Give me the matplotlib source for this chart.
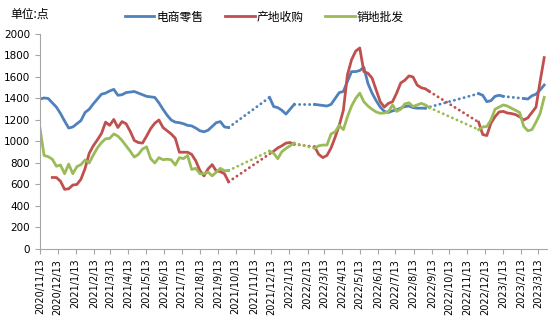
import numpy as np
import pandas as pd
import matplotlib
matplotlib.use('Agg')
import matplotlib.pyplot as plt
from matplotlib.ticker import MultipleLocator

nan = np.nan

# weekly observations starting 2020/11/13
weeks = pd.date_range('2020-11-13', periods=124, freq='7D')

ecommerce = [1395, 1405, 1400, 1360, 1320, 1260, 1190, 1125, 1135, 1165,
             1195, 1270, 1300, 1350, 1395, 1440, 1450, 1470, 1485, 1430,
             1435, 1455, 1460, 1465, 1450, 1435, 1420, 1415, 1410, 1360,
             1300, 1245, 1200, 1180, 1175, 1165, 1150, 1145, 1125, 1100,
             1090, 1105, 1140, 1175, 1185, 1135, 1130,
             nan, nan, nan, nan, nan, nan, nan, nan, nan,
             1410, 1325, 1315, 1290, 1255, 1300, 1345,
             nan, nan, nan, nan,
             1345, 1340, 1335, 1330, 1345, 1400, 1455, 1465, 1560, 1650,
             1650, 1660, 1690, 1540, 1450, 1380, 1320, 1280, 1270, 1285,
             1295, 1310, 1325, 1330, 1315, 1310, 1310, 1310,
             nan, nan, nan, nan, nan, nan, nan, nan, nan, nan, nan, nan,
             1445, 1430, 1370, 1380, 1420, 1430, 1420,
             nan, nan, nan, nan,
             1400, 1395, 1425, 1440, 1480, 1525]

origin = [nan, nan, nan,
          665, 665, 630, 555, 560, 595, 600, 650, 750, 890, 960, 1015,
          1075, 1180, 1150, 1205, 1130, 1185, 1165, 1095, 1010, 990,
          985, 1050, 1120, 1170, 1200, 1130, 1100, 1070, 1030, 900,
          900, 900, 880, 820, 730, 680, 745, 785, 725, 720, 700, 625,
          nan, nan, nan, nan, nan, nan, nan, nan, nan, nan,
          910, 940, 960, 985, 990, 975,
          nan, nan, nan, nan,
          950, 880, 850, 870, 940, 1040, 1150, 1290, 1620, 1760,
          1840, 1870, 1650, 1635, 1590, 1480, 1370, 1320, 1355, 1370,
          1450, 1545, 1570, 1610, 1600, 1525, 1500, 1490, 1465,
          nan, nan, nan, nan, nan, nan, nan, nan, nan, nan, nan,
          1180, 1065, 1055, 1170, 1230, 1275, 1280, 1265, 1260, 1250,
          1230, 1200, 1220, 1270, 1320, 1560, 1780]

wholesale = [1123, 870, 859, 835, 770, 781, 700, 790, 700, 766,
             785, 828, 800, 874, 940, 990, 1025, 1029, 1070, 1050,
             1010, 960, 910, 855, 880, 930, 950, 840, 800, 850,
             830, 835, 830, 781, 850, 840, 870, 740, 750, 700,
             700, 715, 680, 715, 750, 728, 730,
             nan, nan, nan, nan, nan, nan, nan, nan, nan,
             910, 890, 840, 905, 935, 960, 985,
             nan, nan, nan, nan,
             936, 960, 967, 967, 1070, 1090, 1150, 1110, 1230, 1330,
             1400, 1450, 1370, 1330, 1300, 1275, 1262, 1265, 1277, 1340,
             1280, 1300, 1350, 1360, 1325, 1340, 1355, 1340, 1315,
             nan, nan, nan, nan, nan, nan, nan, nan, nan, nan, nan,
             1110, 1135, 1140, 1200, 1300, 1320, 1340, 1330, 1310, 1290,
             1270, 1140, 1100, 1110, 1180, 1260, 1410]

names = ['电商零售', '产地收购', '销地批发']
colors = ['#4F81BD', '#C0504D', '#9BBB59']

cjk = ['Noto Sans CJK SC', 'DejaVu Sans']

fig = plt.figure(figsize=(5.51, 3.29), dpi=100)
ax = fig.add_axes([0.0726, 0.2432, 0.9204, 0.6535])


def draw(ax, vals, color, label):
    y = np.array(vals, dtype=float)
    ax.plot(weeks, y, color=color, lw=2.0, label=label, solid_joinstyle='round')
    # dotted line across the missing weeks
    ok = np.where(~np.isnan(y))[0]
    for a, b in zip(ok[:-1], ok[1:]):
        if b - a > 1:
            ax.plot([weeks[a], weeks[b]], [y[a], y[b]], color=color, lw=2.0,
                    linestyle=(0, (0.1, 1.7)), dash_capstyle='round')


for vals, c, n in zip([ecommerce, origin, wholesale], colors, names):
    draw(ax, vals, c, n)

ax.set_ylim(0, 2000)
ax.yaxis.set_major_locator(MultipleLocator(200))
ax.set_xlim(pd.Timestamp('2020-11-13'), pd.Timestamp('2023-03-29'))

tick_dates = pd.date_range('2020-11-01', '2023-03-01', freq='MS') + pd.Timedelta(days=12)
ax.set_xticks(tick_dates)
ax.set_xticklabels([f'{d.year}/{d.month}/{d.day}' for d in tick_dates],
                   rotation=90, fontsize=7)
ax.tick_params(axis='y', labelsize=7.5)
ax.tick_params(direction='out', length=3.5, width=0.8, color='#A6A6A6')

for s in ['top', 'right']:
    ax.spines[s].set_visible(False)
for s in ['left', 'bottom']:
    ax.spines[s].set_color('#A6A6A6')

fig.text(0.018, 0.957, '单位:点', fontsize=8.5, family=cjk, va='center')
fig.legend(loc='center', bbox_to_anchor=(0.48, 0.948), ncol=3, frameon=False,
           prop={'family': cjk, 'size': 8.5}, handlelength=2.5,
           handletextpad=0.2, columnspacing=1.8)

fig.savefig('out.png', dpi=100)
